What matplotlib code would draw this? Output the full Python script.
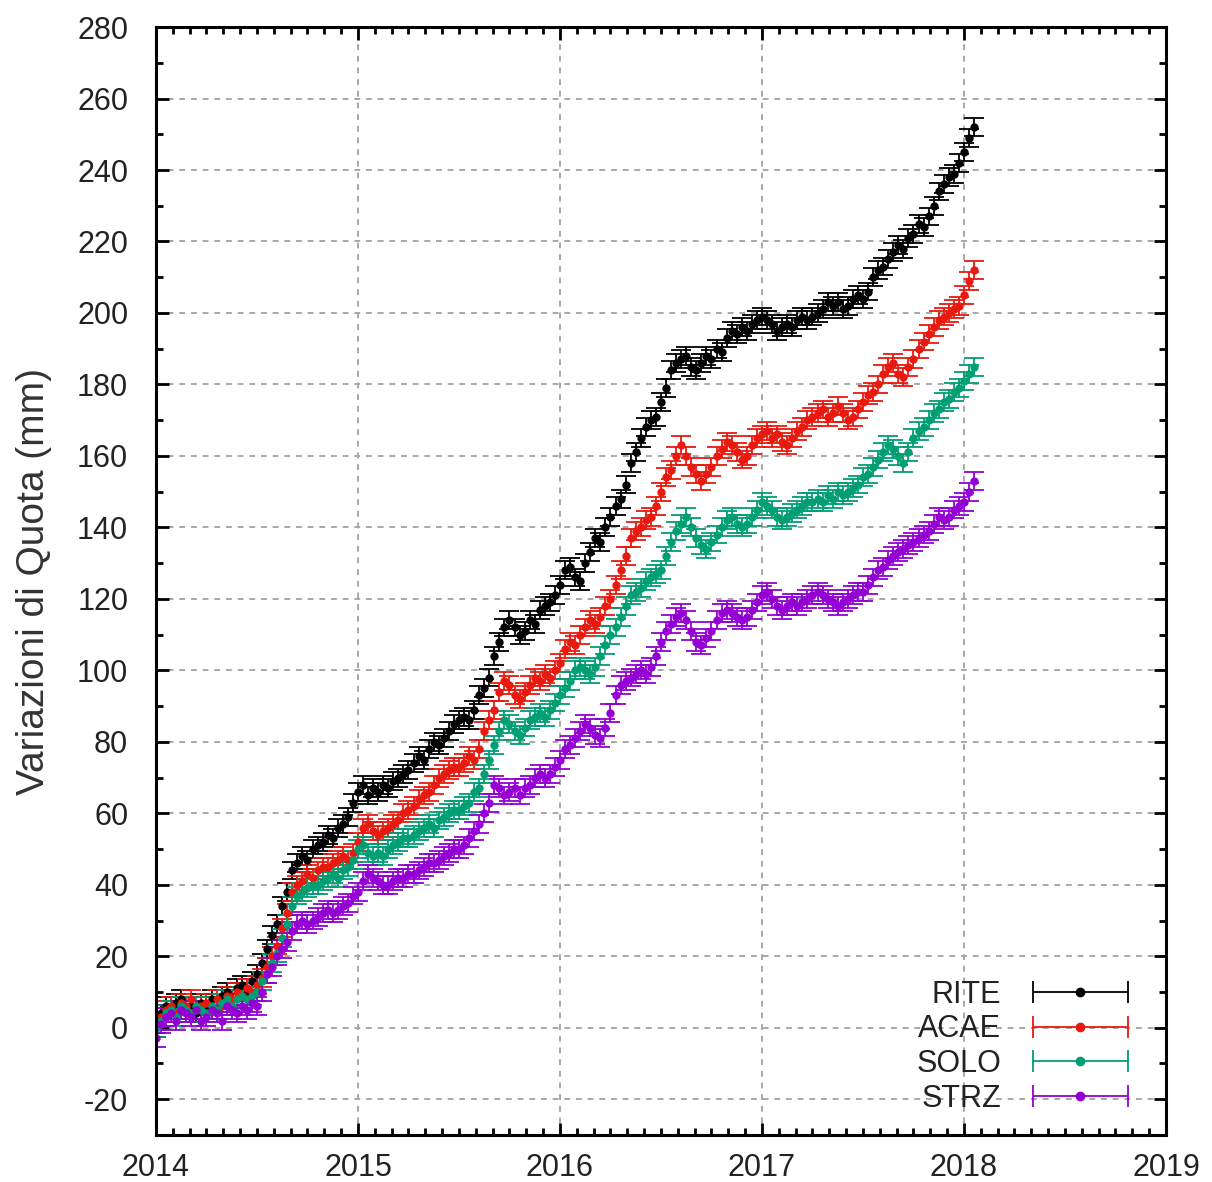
import numpy as np
import matplotlib
matplotlib.use("Agg")
import matplotlib.pyplot as plt
from matplotlib.ticker import MultipleLocator
from matplotlib.container import ErrorbarContainer
from matplotlib.legend_handler import HandlerErrorbar

plt.rcParams['font.family'] = ['Liberation Sans', 'DejaVu Sans']
plt.rcParams['axes.unicode_minus'] = False

# sampling times (decimal years), one point every 0.025 yr
t = 2014.0 + 0.025 * np.arange(163)

rite = [1, 4, 6, 5, 7, 8, 5, 6, 4, 7,
        6, 8, 5, 9, 10, 8, 11, 12, 10, 13,
        15, 18, 22, 26, 29, 34, 38, 44, 46, 48,
        47, 50, 51, 52, 54, 53, 56, 57, 59, 63,
        66, 68, 65, 67, 66, 68, 67, 69, 70, 71,
        72, 74, 76, 75, 78, 80, 79, 81, 83, 85,
        86, 87, 86, 89, 93, 95, 98, 104, 108, 112,
        114, 112, 110, 111, 114, 113, 117, 118, 119, 121,
        124, 128, 129, 126, 125, 130, 133, 137, 136, 140,
        143, 146, 148, 152, 158, 161, 165, 168, 170, 171,
        175, 179, 184, 186, 187, 188, 185, 184, 186, 188,
        187, 190, 189, 193, 195, 194, 196, 195, 197, 198,
        199, 198, 197, 195, 196, 197, 196, 198, 199, 198,
        199, 200, 201, 203, 202, 203, 201, 202, 204, 205,
        204, 206, 210, 212, 213, 215, 217, 219, 218, 221,
        222, 225, 224, 227, 230, 234, 236, 238, 239, 242,
        245, 249, 252]

acae = [0, 3, 5, 6, 4, 7, 6, 8, 5, 6,
        7, 5, 8, 6, 9, 8, 10, 9, 11, 10,
        12, 14, 17, 20, 23, 28, 32, 38, 40, 41,
        43, 42, 44, 45, 45, 46, 47, 48, 47, 49,
        52, 56, 57, 55, 54, 55, 56, 57, 58, 60,
        61, 62, 64, 65, 66, 68, 70, 71, 72, 73,
        73, 74, 76, 75, 78, 83, 86, 89, 94, 97,
        96, 93, 92, 94, 96, 98, 97, 99, 98, 100,
        102, 106, 108, 107, 110, 112, 114, 113, 115, 118,
        120, 124, 128, 132, 137, 139, 140, 142, 143, 146,
        150, 154, 156, 160, 163, 160, 157, 155, 153, 155,
        157, 160, 162, 164, 163, 161, 159, 160, 163, 165,
        166, 167, 165, 166, 164, 163, 165, 167, 168, 170,
        171, 172, 173, 171, 172, 174, 172, 170, 171, 173,
        175, 177, 178, 180, 183, 185, 186, 183, 182, 185,
        187, 190, 192, 194, 196, 198, 199, 200, 201, 202,
        205, 209, 212]

solo = [0, 2, 4, 5, 3, 6, 5, 4, 6, 5,
        4, 6, 5, 7, 8, 6, 8, 9, 8, 9,
        10, 13, 15, 18, 21, 25, 29, 34, 37, 38,
        39, 40, 40, 41, 42, 43, 42, 44, 45, 47,
        50, 51, 49, 48, 49, 48, 50, 51, 52, 53,
        53, 54, 55, 56, 57, 56, 58, 59, 60, 61,
        61, 62, 63, 66, 67, 71, 75, 79, 83, 86,
        85, 83, 82, 84, 86, 87, 88, 87, 89, 91,
        93, 95, 97, 100, 101, 100, 99, 101, 104, 107,
        110, 112, 115, 118, 121, 122, 123, 125, 126, 127,
        128, 132, 136, 139, 141, 143, 140, 137, 135, 134,
        136, 138, 140, 142, 143, 141, 140, 141, 143, 145,
        147, 146, 145, 143, 142, 143, 144, 145, 146, 147,
        147, 148, 147, 149, 148, 150, 149, 150, 151, 152,
        154, 155, 157, 159, 161, 163, 162, 160, 158, 161,
        165, 167, 168, 170, 172, 173, 175, 176, 178, 179,
        181, 183, 185]

strz = [-3, 1, 3, 4, 2, 5, 4, 3, 5, 2,
        3, 5, 4, 2, 6, 5, 4, 6, 5, 7,
        6, 10, 15, 17, 20, 22, 24, 27, 29, 30,
        29, 30, 31, 32, 33, 32, 33, 34, 35, 37,
        38, 41, 43, 42, 41, 40, 40, 41, 42, 42,
        43, 43, 44, 45, 46, 46, 47, 48, 49, 50,
        50, 51, 53, 55, 57, 60, 63, 68, 67, 65,
        66, 67, 65, 67, 68, 70, 71, 70, 71, 73,
        75, 78, 79, 81, 83, 85, 84, 82, 81, 84,
        88, 93, 96, 97, 98, 99, 100, 99, 101, 104,
        108, 111, 113, 115, 116, 114, 111, 108, 107, 109,
        111, 114, 116, 117, 116, 115, 114, 115, 117, 119,
        121, 122, 120, 118, 117, 118, 119, 118, 119, 120,
        121, 122, 121, 120, 119, 118, 119, 120, 121, 122,
        122, 124, 126, 128, 129, 131, 132, 133, 134, 135,
        136, 137, 138, 139, 141, 143, 142, 143, 145, 146,
        147, 150, 153]

err = 2.5  # mm, vertical error bar half-size

names = ['RITE', 'ACAE', 'SOLO', 'STRZ']
series = [rite, acae, solo, strz]
colors = ['#000000', '#e8190f', '#009e73', '#9400d3']

fig = plt.figure(figsize=(12.12, 11.82), dpi=100)
ax = fig.add_axes([0.1287, 0.0398, 0.8333, 0.9373])

handles = []
for name, vals, c in zip(names, series, colors):
    ax.errorbar(t, vals, yerr=err, fmt='o', ms=5, color=c, ecolor=c,
                elinewidth=1.3, capsize=7, capthick=1.3)
    # proxy for the gnuplot-style key sample (horizontal bar with caps)
    h = ax.errorbar([np.nan], [np.nan], xerr=[1], fmt='o', ms=6, color=c,
                    elinewidth=1.3, capsize=8, capthick=1.3, label=name)
    handles.append(h)

ax.set_xlim(2014, 2019)
ax.set_ylim(-30, 280)
ax.xaxis.set_major_locator(MultipleLocator(1))
ax.xaxis.set_minor_locator(MultipleLocator(1 / 12))
ax.yaxis.set_major_locator(MultipleLocator(20))
ax.yaxis.set_minor_locator(MultipleLocator(10))
ax.set_xticks(range(2014, 2020))
ax.set_xticklabels([str(y) for y in range(2014, 2020)])

ax.tick_params(which='both', direction='in', top=True, right=True,
               labelsize=22, width=2, labelcolor='#222222')
ax.tick_params(which='major', length=9)
ax.tick_params(axis='y', which='major', pad=20)
ax.tick_params(axis='x', which='major', pad=13)
ax.tick_params(which='minor', length=5)
for s in ax.spines.values():
    s.set_linewidth(2.2)

ax.grid(True, which='major', color='#a8a8a8', linestyle=(0, (3, 3)), linewidth=1.4)
ax.set_axisbelow(True)

ax.set_ylabel('Variazioni di Quota (mm)', fontsize=28, color='#333333', labelpad=18)

leg = ax.legend(handles=handles, loc='lower right', bbox_to_anchor=(0.988, 0.0),
                frameon=False, markerfirst=False, fontsize=22,
                handlelength=3.4, handletextpad=0.9, labelspacing=0.15,
                borderaxespad=0.3,
                handler_map={ErrorbarContainer: HandlerErrorbar(xerr_size=1.55, numpoints=1)})
for txt in leg.get_texts():
    txt.set_color('#222222')

fig.savefig('out.png', dpi=100)
